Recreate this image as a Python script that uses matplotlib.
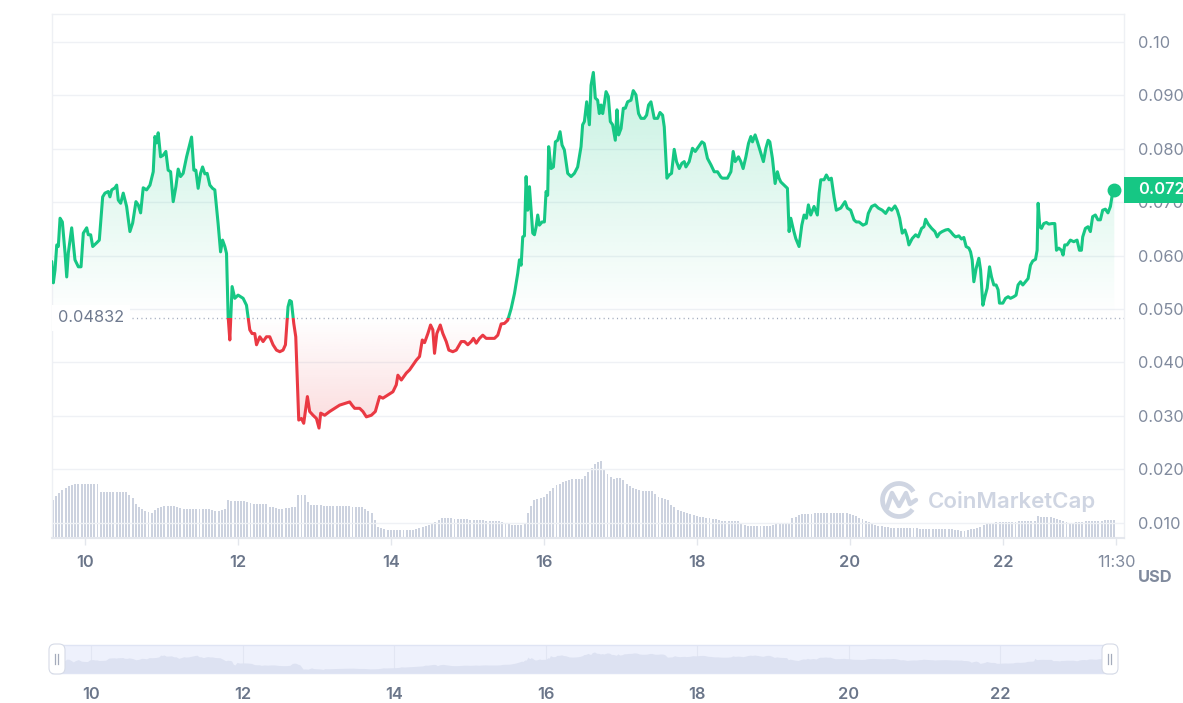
import numpy as np
import matplotlib
matplotlib.use("Agg")
import matplotlib.pyplot as plt
import matplotlib.transforms as mtransforms
from matplotlib.patches import Rectangle, FancyBboxPatch, Arc
from matplotlib.colors import to_rgb

plt.rcParams['font.family'] = ['Inter', 'DejaVu Sans']

# ---------------- data ----------------
days = [
    9.565, 9.586, 9.608, 9.631, 9.651, 9.674, 9.704, 9.739, 9.761, 9.782,
    9.826, 9.869, 9.913, 9.948, 9.978, 10.022, 10.043, 10.074, 10.101, 10.153,
    10.187, 10.231, 10.261, 10.304, 10.326, 10.349, 10.392, 10.414, 10.435, 10.466,
    10.500, 10.544, 10.587, 10.623, 10.666, 10.696, 10.727, 10.761, 10.805, 10.849,
    10.892, 10.914, 10.936, 10.957, 10.988, 11.022, 11.057, 11.087, 11.119, 11.153,
    11.188, 11.218, 11.249, 11.283, 11.328, 11.362, 11.393, 11.423, 11.449, 11.479,
    11.510, 11.537, 11.567, 11.597, 11.632, 11.667, 11.697, 11.740, 11.772, 11.798,
    11.828, 11.850, 11.871, 11.893, 11.923, 11.958, 12.001, 12.067, 12.111, 12.154,
    12.184, 12.219, 12.242, 12.285, 12.328, 12.372, 12.415, 12.458, 12.503, 12.546,
    12.589, 12.620, 12.654, 12.676, 12.698, 12.729, 12.755, 12.794, 12.829, 12.859,
    12.907, 12.937, 12.981, 13.025, 13.059, 13.081, 13.133, 13.198, 13.264, 13.329,
    13.394, 13.460, 13.490, 13.525, 13.590, 13.633, 13.678, 13.743, 13.795, 13.851,
    13.894, 13.960, 14.025, 14.069, 14.090, 14.135, 14.200, 14.243, 14.330, 14.373,
    14.409, 14.439, 14.482, 14.517, 14.547, 14.569, 14.599, 14.644, 14.678, 14.722,
    14.756, 14.808, 14.853, 14.918, 14.961, 15.004, 15.048, 15.078, 15.114, 15.157,
    15.200, 15.244, 15.287, 15.353, 15.396, 15.440, 15.483, 15.526, 15.571, 15.614,
    15.657, 15.679, 15.701, 15.722, 15.744, 15.766, 15.787, 15.810, 15.853, 15.875,
    15.897, 15.918, 15.940, 15.975, 16.005, 16.027, 16.048, 16.061, 16.093, 16.123,
    16.149, 16.179, 16.210, 16.236, 16.266, 16.310, 16.354, 16.397, 16.440, 16.484,
    16.505, 16.528, 16.558, 16.593, 16.615, 16.645, 16.671, 16.701, 16.723, 16.746,
    16.767, 16.789, 16.811, 16.841, 16.867, 16.897, 16.932, 16.954, 16.975, 17.007,
    17.037, 17.063, 17.093, 17.137, 17.167, 17.202, 17.236, 17.268, 17.311, 17.341,
    17.367, 17.398, 17.441, 17.485, 17.516, 17.550, 17.572, 17.607, 17.637, 17.667,
    17.702, 17.732, 17.768, 17.803, 17.833, 17.855, 17.898, 17.941, 17.977, 18.020,
    18.064, 18.094, 18.137, 18.182, 18.225, 18.268, 18.312, 18.333, 18.398, 18.443,
    18.473, 18.499, 18.542, 18.573, 18.603, 18.639, 18.673, 18.704, 18.725, 18.760,
    18.790, 18.834, 18.868, 18.900, 18.930, 18.952, 18.986, 19.021, 19.051, 19.073,
    19.095, 19.138, 19.182, 19.204, 19.226, 19.256, 19.291, 19.334, 19.370, 19.400,
    19.430, 19.456, 19.487, 19.530, 19.573, 19.596, 19.618, 19.661, 19.691, 19.726,
    19.756, 19.791, 19.821, 19.879, 19.935, 19.965, 20.009, 20.052, 20.082, 20.118,
    20.170, 20.213, 20.239, 20.283, 20.327, 20.370, 20.422, 20.466, 20.509, 20.544,
    20.588, 20.618, 20.649, 20.683, 20.718, 20.748, 20.770, 20.813, 20.858, 20.892,
    20.936, 20.966, 20.988, 21.022, 21.067, 21.110, 21.140, 21.172, 21.205, 21.250,
    21.284, 21.315, 21.349, 21.380, 21.423, 21.458, 21.488, 21.518, 21.554, 21.576,
    21.597, 21.619, 21.649, 21.684, 21.707, 21.737, 21.763, 21.793, 21.824, 21.850,
    21.880, 21.910, 21.936, 21.954, 21.998, 22.033, 22.067, 22.098, 22.141, 22.171,
    22.197, 22.229, 22.259, 22.294, 22.328, 22.359, 22.389, 22.425, 22.446, 22.459,
    22.481, 22.503, 22.533, 22.568, 22.598, 22.641, 22.677, 22.699, 22.729, 22.764,
    22.785, 22.807, 22.837, 22.881, 22.925, 22.968, 22.999, 23.025, 23.042, 23.077,
    23.111, 23.142, 23.172, 23.207, 23.241, 23.273, 23.303, 23.338, 23.372, 23.404,
    23.424, 23.455,
]
prices = [
    0.0589, 0.0549, 0.0573, 0.0620, 0.0617, 0.0670, 0.0663, 0.0605, 0.0560, 0.0605,
    0.0652, 0.0592, 0.0579, 0.0579, 0.0642, 0.0652, 0.0639, 0.0639, 0.0617, 0.0624,
    0.0629, 0.0710, 0.0717, 0.0720, 0.0710, 0.0723, 0.0727, 0.0732, 0.0704, 0.0698,
    0.0717, 0.0692, 0.0645, 0.0661, 0.0701, 0.0695, 0.0680, 0.0727, 0.0723, 0.0732,
    0.0757, 0.0823, 0.0811, 0.0830, 0.0785, 0.0788, 0.0795, 0.0760, 0.0757, 0.0701,
    0.0729, 0.0762, 0.0748, 0.0754, 0.0785, 0.0804, 0.0822, 0.0760, 0.0760, 0.0726,
    0.0754, 0.0766, 0.0753, 0.0754, 0.0732, 0.0726, 0.0723, 0.0660, 0.0607, 0.0629,
    0.0617, 0.0604, 0.0486, 0.0442, 0.0542, 0.0520, 0.0526, 0.0520, 0.0507, 0.0461,
    0.0454, 0.0454, 0.0433, 0.0448, 0.0439, 0.0448, 0.0448, 0.0433, 0.0423, 0.0420,
    0.0423, 0.0433, 0.0504, 0.0516, 0.0514, 0.0473, 0.0448, 0.0292, 0.0295, 0.0286,
    0.0336, 0.0308, 0.0301, 0.0295, 0.0277, 0.0305, 0.0301, 0.0308, 0.0314, 0.0320,
    0.0323, 0.0326, 0.0320, 0.0314, 0.0314, 0.0308, 0.0298, 0.0301, 0.0308, 0.0336,
    0.0333, 0.0339, 0.0345, 0.0358, 0.0376, 0.0367, 0.0380, 0.0386, 0.0404, 0.0411,
    0.0442, 0.0437, 0.0454, 0.0470, 0.0461, 0.0417, 0.0454, 0.0470, 0.0454, 0.0439,
    0.0423, 0.0420, 0.0423, 0.0439, 0.0439, 0.0433, 0.0439, 0.0445, 0.0436, 0.0445,
    0.0451, 0.0445, 0.0445, 0.0445, 0.0451, 0.0472, 0.0473, 0.0479, 0.0501, 0.0529,
    0.0567, 0.0592, 0.0582, 0.0635, 0.0637, 0.0748, 0.0685, 0.0729, 0.0642, 0.0639,
    0.0654, 0.0676, 0.0657, 0.0663, 0.0663, 0.0720, 0.0713, 0.0804, 0.0763, 0.0766,
    0.0813, 0.0816, 0.0832, 0.0807, 0.0798, 0.0754, 0.0748, 0.0754, 0.0766, 0.0804,
    0.0845, 0.0851, 0.0888, 0.0845, 0.0919, 0.0943, 0.0895, 0.0891, 0.0866, 0.0882,
    0.0866, 0.0885, 0.0907, 0.0898, 0.0851, 0.0845, 0.0816, 0.0873, 0.0826, 0.0838,
    0.0876, 0.0876, 0.0888, 0.0891, 0.0909, 0.0901, 0.0866, 0.0857, 0.0857, 0.0863,
    0.0882, 0.0888, 0.0857, 0.0857, 0.0868, 0.0863, 0.0841, 0.0745, 0.0751, 0.0754,
    0.0799, 0.0776, 0.0763, 0.0773, 0.0776, 0.0766, 0.0776, 0.0801, 0.0795, 0.0804,
    0.0813, 0.0810, 0.0782, 0.0770, 0.0757, 0.0757, 0.0747, 0.0745, 0.0745, 0.0757,
    0.0795, 0.0776, 0.0785, 0.0776, 0.0763, 0.0785, 0.0810, 0.0823, 0.0813, 0.0826,
    0.0813, 0.0792, 0.0776, 0.0801, 0.0816, 0.0813, 0.0782, 0.0735, 0.0757, 0.0745,
    0.0738, 0.0732, 0.0726, 0.0645, 0.0670, 0.0651, 0.0632, 0.0617, 0.0657, 0.0676,
    0.0670, 0.0695, 0.0676, 0.0692, 0.0676, 0.0717, 0.0742, 0.0742, 0.0751, 0.0742,
    0.0745, 0.0710, 0.0685, 0.0689, 0.0701, 0.0689, 0.0685, 0.0667, 0.0663, 0.0663,
    0.0657, 0.0660, 0.0679, 0.0692, 0.0695, 0.0689, 0.0685, 0.0679, 0.0689, 0.0685,
    0.0693, 0.0685, 0.0670, 0.0642, 0.0648, 0.0635, 0.0620, 0.0632, 0.0639, 0.0635,
    0.0651, 0.0654, 0.0668, 0.0659, 0.0651, 0.0645, 0.0635, 0.0642, 0.0645, 0.0648,
    0.0649, 0.0645, 0.0639, 0.0635, 0.0637, 0.0631, 0.0634, 0.0617, 0.0614, 0.0607,
    0.0592, 0.0551, 0.0576, 0.0595, 0.0573, 0.0507, 0.0523, 0.0539, 0.0579, 0.0560,
    0.0545, 0.0545, 0.0536, 0.0511, 0.0511, 0.0520, 0.0523, 0.0520, 0.0523, 0.0526,
    0.0545, 0.0551, 0.0545, 0.0551, 0.0557, 0.0582, 0.0590, 0.0593, 0.0610, 0.0698,
    0.0654, 0.0651, 0.0660, 0.0662, 0.0659, 0.0660, 0.0660, 0.0610, 0.0614, 0.0610,
    0.0601, 0.0620, 0.0620, 0.0629, 0.0626, 0.0629, 0.0610, 0.0610, 0.0635, 0.0651,
    0.0654, 0.0645, 0.0673, 0.0676, 0.0667, 0.0667, 0.0685, 0.0687, 0.0680, 0.0692,
    0.0710, 0.0723,
]
baseline = 0.04832

# hourly volume (relative units), first bar at day 9.58
vol_start = 9.58
volume = [
    38, 42, 45, 48, 50, 52, 53, 54, 54, 54, 54, 54, 54, 54, 54, 46, 46, 46, 46, 46, 46, 46, 46, 46,
    43, 40, 34, 31, 29, 27, 26, 25, 28, 30, 31, 32, 32, 32, 32, 31, 30, 29, 29, 29, 29, 29, 29, 29,
    29, 29, 28, 27, 27, 28, 29, 38, 37, 37, 37, 37, 37, 36, 35, 34, 34, 34, 34, 34, 31, 31, 30, 29,
    29, 30, 30, 31, 31, 43, 43, 43, 36, 33, 33, 33, 33, 32, 32, 32, 32, 32, 32, 32, 32, 32, 31, 31,
    31, 31, 29, 27, 25, 18, 11, 10, 9, 8, 8, 8, 8, 8, 8, 8, 8, 8, 9, 10, 11, 12, 13, 15,
    16, 18, 20, 20, 20, 20, 19, 19, 19, 19, 19, 18, 18, 18, 18, 18, 17, 17, 17, 17, 17, 16, 15, 14,
    13, 13, 13, 13, 14, 25, 32, 38, 39, 40, 41, 44, 47, 50, 53, 54, 56, 57, 58, 59, 59, 59, 59, 62,
    66, 70, 74, 76, 77, 68, 64, 61, 59, 60, 60, 58, 54, 52, 50, 49, 48, 47, 47, 47, 47, 44, 41, 40,
    39, 38, 33, 31, 28, 27, 26, 25, 24, 23, 22, 21, 21, 20, 20, 19, 19, 18, 17, 17, 17, 17, 17, 17,
    15, 13, 12, 12, 12, 12, 12, 12, 12, 12, 13, 15, 15, 15, 15, 15, 20, 21, 23, 24, 24, 24, 24, 25,
    25, 25, 25, 25, 25, 25, 25, 25, 25, 25, 24, 23, 22, 20, 19, 17, 16, 14, 13, 12, 12, 11, 11, 10,
    10, 10, 10, 10, 10, 10, 10, 10, 9, 9, 9, 9, 9, 9, 9, 9, 9, 9, 9, 8, 8, 7, 7, 8,
    9, 9, 10, 11, 13, 14, 15, 15, 16, 16, 16, 16, 16, 16, 16, 17, 17, 17, 17, 17, 17, 22, 21, 21,
    21, 21, 20, 19, 18, 17, 16, 15, 15, 16, 16, 16, 17, 17, 17, 17, 17, 17, 18, 18, 18, 18,
]

y_ticks = [0.010, 0.020, 0.030, 0.040, 0.050, 0.060, 0.070, 0.080, 0.090, 0.10]
y_labels = ['0.010', '0.020', '0.030', '0.040', '0.050', '0.060', '0.070', '0.080', '0.090', '0.10']
x_ticks = [10, 12, 14, 16, 18, 20, 22]
x_labels = ['10', '12', '14', '16', '18', '20', '22']
last_tick = 23.479
last_label = '11:30'
nav_range = (9.479, 23.479)

# ---------------- styling ----------------
GREEN = '#16c784'
RED = '#ea3943'
GREY = '#808a9d'
DGREY = '#6b768a'

W, H = 1183, 703
fig = plt.figure(figsize=(W / 100, H / 100), dpi=100, facecolor='white')


def px_rect(l, t, r, b):
    return [l / W, 1 - b / H, (r - l) / W, (b - t) / H]


XLIM = (9.5686, 23.5817)
YLIM = (0.007116, 0.105243)
AX_H = 524  # px

d = np.array(days)
p = np.array(prices)

# volume axes (behind)
axv = fig.add_axes(px_rect(52, 14, 1124, 538), zorder=0)
axv.set_xlim(*XLIM)
axv.set_ylim(0, AX_H)
axv.axis('off')
vol_days = vol_start + np.arange(len(volume)) / 24
axv.bar(vol_days, volume, width=0.6 / 24, color='#ccd2df', linewidth=0, align='center')

# price axes
ax = fig.add_axes(px_rect(52, 14, 1124, 538), zorder=1)
ax.patch.set_visible(False)

# gradient fill
ny = 800
yy = np.linspace(YLIM[0], YLIM[1], ny)
rgba = np.zeros((ny, 2, 4))
above = yy >= baseline
rgba[above, :, :3] = to_rgb(GREEN)
rgba[above, :, 3] = (np.clip((yy[above] - baseline) / (0.094 - baseline), 0, 1) * 0.24)[:, None]
rgba[~above, :, :3] = to_rgb(RED)
rgba[~above, :, 3] = (np.clip((baseline - yy[~above]) / (baseline - 0.028), 0, 1) * 0.18)[:, None]
im = ax.imshow(rgba, extent=[XLIM[0], XLIM[1], YLIM[0], YLIM[1]], origin='lower',
               aspect='auto', interpolation='bilinear', zorder=1)
poly = ax.fill_between(d, p, baseline, facecolor='none', edgecolor='none')
im.set_clip_path(poly.get_paths()[0], transform=ax.transData)

# price line, green above baseline, red below
clip_up = Rectangle((XLIM[0], baseline), XLIM[1] - XLIM[0], YLIM[1] - baseline, transform=ax.transData)
clip_dn = Rectangle((XLIM[0], YLIM[0]), XLIM[1] - XLIM[0], baseline - YLIM[0], transform=ax.transData)
lg, = ax.plot(d, p, color=GREEN, lw=2.2, zorder=4, solid_joinstyle='round', solid_capstyle='round')
lg.set_clip_path(clip_up)
lr, = ax.plot(d, p, color=RED, lw=2.2, zorder=4, solid_joinstyle='round', solid_capstyle='round')
lr.set_clip_path(clip_dn)
ax.plot([d[-1]], [p[-1]], 'o', color=GREEN, ms=9, zorder=6, clip_on=False)

# baseline
ax.axhline(baseline, color='#a3abbd', lw=1.0, ls=(0, (0.8, 2.4)), zorder=3)
trans = mtransforms.blended_transform_factory(ax.transAxes, ax.transData)
ax.text(6 / 1072, baseline, f'{baseline:.5f}', transform=trans, ha='left', va='center',
        fontsize=11.8, color='#6f7a8f', zorder=7,
        bbox=dict(boxstyle='square,pad=0.35', fc='white', ec='none'))

ax.set_xlim(*XLIM)
ax.set_ylim(*YLIM)

# y axis
ax.set_yticks(y_ticks)
ax.set_yticklabels(y_labels)
ax.yaxis.tick_right()
ax.tick_params(axis='y', length=0, pad=10, labelsize=11.8, labelcolor=GREY)
ax.set_axisbelow(True)
ax.grid(axis='y', color='#eff1f5', lw=1.0)

# x axis
ax.set_xticks(x_ticks + [last_tick])
ax.set_xticklabels(x_labels + [last_label])
ax.tick_params(axis='x', length=5, width=1, color='#e3e6ec', pad=7, labelsize=11.8, labelcolor=DGREY)
xl = ax.get_xticklabels()
for lab in xl[:-1]:
    lab.set_fontweight('semibold')
xl[-1].set_color(GREY)

for s in ax.spines.values():
    s.set_color('#eef0f4')
    s.set_linewidth(1.0)
ax.spines['bottom'].set_color('#e4e7ed')
ax.spines['bottom'].set_linewidth(1.5)

# current price tag
hh = 13 * (YLIM[1] - YLIM[0]) / AX_H
ax.add_patch(Rectangle((1.0, p[-1] - hh), 60 / 1072, 2 * hh, transform=trans, facecolor=GREEN,
                       edgecolor='none', clip_on=False, zorder=10))
ax.text(1 + 14 / 1072, p[-1], f'{p[-1]:.3f}', transform=trans, color='white', fontsize=11.8,
        fontweight='semibold', ha='left', va='center', zorder=11, clip_on=False)

fig.text(1155 / W, 1 - 578 / H, 'USD', ha='center', va='center', fontsize=11.8,
         fontweight='bold', color=GREY)

# navigator
nav = fig.add_axes(px_rect(52, 645, 1112, 673), zorder=2)
nav.set_facecolor('#eef1fc')
nav.fill_between(d, p, 0.0, color='#dde2f2', lw=0, zorder=2)
nav.set_xlim(*nav_range)
nav.set_ylim(0.014, 0.121)
nav.set_yticks([])
nav.set_xticks(x_ticks)
nav.set_xticklabels(x_labels)
nav.tick_params(axis='x', length=0, pad=10, labelsize=11.8, labelcolor=DGREY)
for lab in nav.get_xticklabels():
    lab.set_fontweight('semibold')
nav.grid(axis='x', color='#e2e6f3', lw=0.8, zorder=1)
nav.set_axisbelow(True)
for s in nav.spines.values():
    s.set_color('#dfe4f4')
    s.set_linewidth(1.0)

# overlay (decorations in pixel coords)
ov = fig.add_axes([0, 0, 1, 1], zorder=5)
ov.set_xlim(0, W)
ov.set_ylim(H, 0)
ov.axis('off')
WM = '#cfd5e2'
ov.text(928, 501, 'CoinMarketCap', fontsize=16, fontweight='semibold', color=WM,
        ha='left', va='center')
ov.add_patch(Arc((899, 500), 33, 33, theta1=35, theta2=330, lw=3.4, color=WM))
ov.plot([887, 892, 899, 906, 910, 916], [508, 493, 506, 493, 504, 500], color=WM, lw=3.2,
        solid_joinstyle='round', solid_capstyle='round')

for cx in (57, 1110):
    ov.add_patch(FancyBboxPatch((cx - 8, 644), 16, 30, boxstyle='round,pad=0,rounding_size=6',
                                fc='white', ec='#d6dbe7', lw=0.8))
    ov.plot([cx - 1.5, cx - 1.5], [654, 664], color='#a4abbb', lw=0.9)
    ov.plot([cx + 1.5, cx + 1.5], [654, 664], color='#a4abbb', lw=0.9)

fig.savefig('out.png', dpi=100, facecolor='white')
